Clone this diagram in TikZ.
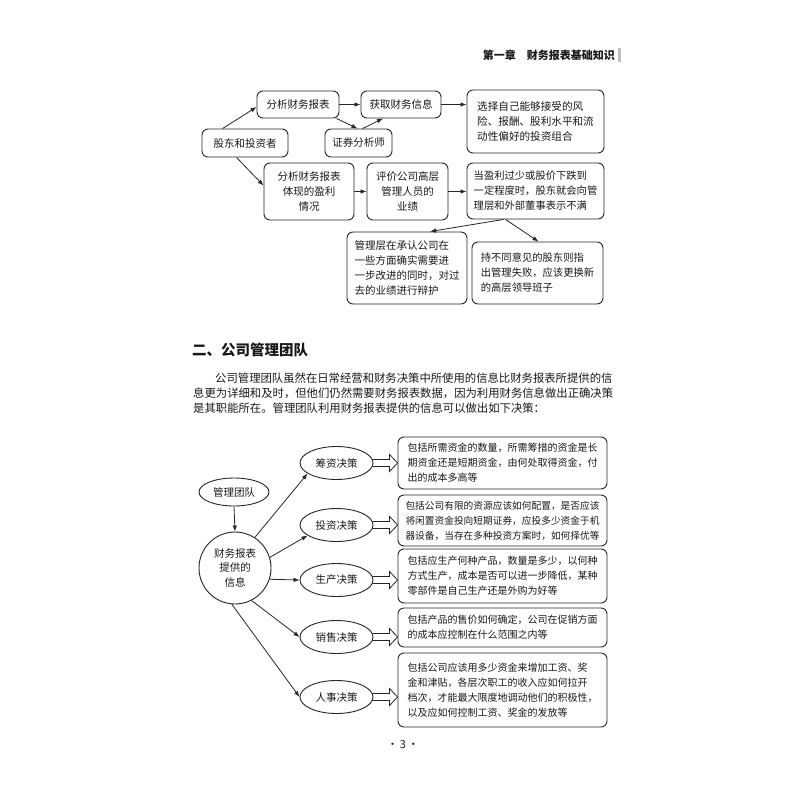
\documentclass[tikz,border=0pt]{standalone}
\usepackage{fontspec}
\setmainfont{Noto Sans CJK SC}
\usetikzlibrary{arrows.meta,calc,shapes.geometric}
\tikzset{
  rbox/.style={draw=black!85, line width=0.9pt, rounded corners=6pt, inner sep=0pt, align=left, text=black!90},
  ell/.style={draw=black!85, line width=0.9pt, ellipse, inner sep=0pt, text=black!90},
  arr/.style={draw=black!85, line width=0.8pt, -{Latex[length=6pt,width=4.5pt]}},
  harr/.style={draw=black!85, line width=0.8pt, line join=miter},
  fs/.style={font=\fontsize{#1}{15}\selectfont},
  ptxt/.style={anchor=west, inner sep=0pt, text=black!90, font=\fontsize{11.35}{15}\selectfont},
}
\newcommand\hollowarr[2]{%
  \draw[harr] ($(#1.east)+(-1,-3.5)$) -- ($(#2.west |- #1.east)+(-8,-3.5)$) -- ++(0,-5)
    -- (#2.west |- #1.east) -- ($(#2.west |- #1.east)+(-8,8.5)$) -- ++(0,-5)
    -- ($(#1.east)+(-1,3.5)$);}
\begin{document}
\begin{tikzpicture}[x=1pt,y=-1pt]
\useasboundingbox (0,0) rectangle (800,800);
\fill[white] (0,0) rectangle (800,800);

% header
\node[anchor=east, inner sep=0pt, text=black!90, font=\fontsize{11}{12}\selectfont\bfseries] (hd) at (615,55) {第一章\hspace{1em}财务报表基础知识};
\fill[black!25] (617.5,48) rectangle (620.5,62);

% top diagram
\node[rbox, fs=10.5, minimum width=86pt, minimum height=28pt, align=center] (A) at (245,143) {股东和投资者};
\node[rbox, fs=10.5, minimum width=82pt, minimum height=27pt, align=center] (B) at (298,104.5) {分析财务报表};
\node[rbox, fs=10.5, minimum width=80pt, minimum height=27pt, align=center] (C) at (401,104.5) {获取财务信息};
\node[rbox, fs=10.5, minimum width=67pt, minimum height=28pt, align=center] (D) at (358.5,143) {证券分析师};
\node[rbox, fs=10.5, minimum width=90pt, minimum height=57pt, align=center] (E) at (309,191.5) {分析财务报表\\体现的盈利\\情况};
\node[rbox, fs=10.5, minimum width=81pt, minimum height=57pt, align=center] (F) at (407.5,191.5) {评价公司高层\\管理人员的\\业绩};
\node[rbox, fs=10.6, minimum width=137pt, minimum height=63pt] (G) at (535.5,121.5) {选择自己能够接受的风\\险、报酬、股利水平和流\\动性偏好的投资组合};
\node[rbox, fs=10.3, minimum width=137pt, minimum height=56pt] (H) at (535.5,191) {当盈利过少或股价下跌到\\一定程度时，股东就会向管\\理层和外部董事表示不满};
\node[rbox, fs=10.5, minimum width=120pt, minimum height=72pt] (I) at (407,268) {管理层在承认公司在\\一些方面确实需要进\\一步改进的同时，对过\\去的业绩进行辩护};
\node[rbox, fs=10.3, minimum width=131pt, minimum height=62pt] (J) at (537.5,273) {持不同意见的股东则指\\出管理失败，应该更换新\\的高层领导班子};

\draw[arr] ([xshift=21pt]A.north west) -- ([yshift=-2.5pt]B.west);
\draw[arr] ([xshift=-3pt]B.south east) -- ([xshift=-1pt]D.north);
\draw[arr] ([xshift=4pt]D.north) -- ([xshift=-18pt]C.south);
\draw[arr] (B.east) -- (C.west);
\draw[arr] (C.east) -- (C.east -| G.west);
\draw[arr] ([xshift=35pt]A.south west) -- ([yshift=-23pt]E.north west);
\draw[arr] (E.east) -- (F.west);
\draw[arr] (F.east) -- (F.east -| H.west);
\draw[arr] ([xshift=-32pt]H.south) -- ([xshift=23pt]I.north);
\draw[arr] ([xshift=-30pt]H.south) -- ([xshift=1pt]J.north);

% section heading and paragraph
\node[anchor=west, inner sep=0pt, text=black!90, font=\fontsize{14.5}{16}\selectfont\bfseries] (sec) at (192,350) {二、公司管理团队};
\node[ptxt] (p1) at (215,378) {公司管理团队虽然在日常经营和财务决策中所使用的信息比财务报表所提供的信};
\node[ptxt] (p2) at (193,393) {息更为详细和及时，但他们仍然需要财务报表数据，因为利用财务信息做出正确决策};
\node[ptxt] (p3) at (193,408) {是其职能所在。管理团队利用财务报表提供的信息可以做出如下决策：};

% bottom diagram
\node[ell, fs=10.5, minimum width=70pt, minimum height=28pt] (M) at (234,492) {管理团队};
\node[circle, draw=black!85, line width=0.9pt, inner sep=0pt, minimum size=72pt, align=center, text=black!90, font=\fontsize{10.5}{14.5}\selectfont] (N) at (235,568) {财务报表\\提供的\\信息};
\node[ell, fs=10.5, minimum width=73pt, minimum height=33pt] (d1) at (336.5,463) {筹资决策};
\node[ell, fs=10.5, minimum width=73pt, minimum height=33pt] (d2) at (336.5,525) {投资决策};
\node[ell, fs=10.5, minimum width=73pt, minimum height=33pt] (d3) at (336.5,580) {生产决策};
\node[ell, fs=10.5, minimum width=73pt, minimum height=33pt] (d4) at (336.5,637) {销售决策};
\node[ell, fs=10.5, minimum width=73pt, minimum height=33pt] (d5) at (336.5,697) {人事决策};

\node[rbox, fs=10, minimum width=209pt, minimum height=52pt] (R1) at (502.5,463) {包括所需资金的数量，所需筹措的资金是长\\期资金还是短期资金，由何处取得资金，付\\出的成本多高等};
\node[rbox, fs=9.7, minimum width=209pt, minimum height=51pt] (R2) at (502.5,520.5) {包括公司有限的资源应该如何配置，是否应该\\将闲置资金投向短期证券，应投多少资金于机\\器设备，当存在多种投资方案时，如何择优等};
\node[rbox, fs=10, minimum width=209pt, minimum height=54pt] (R3) at (502.5,576) {包括应生产何种产品，数量是多少，以何种\\方式生产，成本是否可以进一步降低，某种\\零部件是自己生产还是外购为好等};
\node[rbox, fs=10, minimum width=209pt, minimum height=39pt] (R4) at (502.5,627.5) {包括产品的售价如何确定，公司在促销方面\\的成本应控制在什么范围之内等};
\node[rbox, fs=10, minimum width=209pt, minimum height=74pt] (R5) at (502.5,690) {包括公司应该用多少资金来增加工资、奖\\金和津贴，各层次职工的收入应如何拉开\\档次，才能最大限度地调动他们的积极性，\\以及应如何控制工资、奖金的发放等};

\draw[arr] (M.south) -- (N.north);
\draw[arr] (N.57) -- (d1.200);
\draw[arr] (N.17) -- (d2.200);
\draw[arr] (N.-18) -- (d3.west);
\draw[arr] (N.-63) -- (d4.west);
\draw[arr] (N.-95) -- (d5.west);

\hollowarr{d1}{R1}
\hollowarr{d2}{R2}
\hollowarr{d3}{R3}
\hollowarr{d4}{R4}
\hollowarr{d5}{R5}

% page number
\node[inner sep=0pt, text=black!90, font=\fontsize{11}{12}\selectfont] (pg) at (403,745) {·\,3\,·};
\end{tikzpicture}
\end{document}
